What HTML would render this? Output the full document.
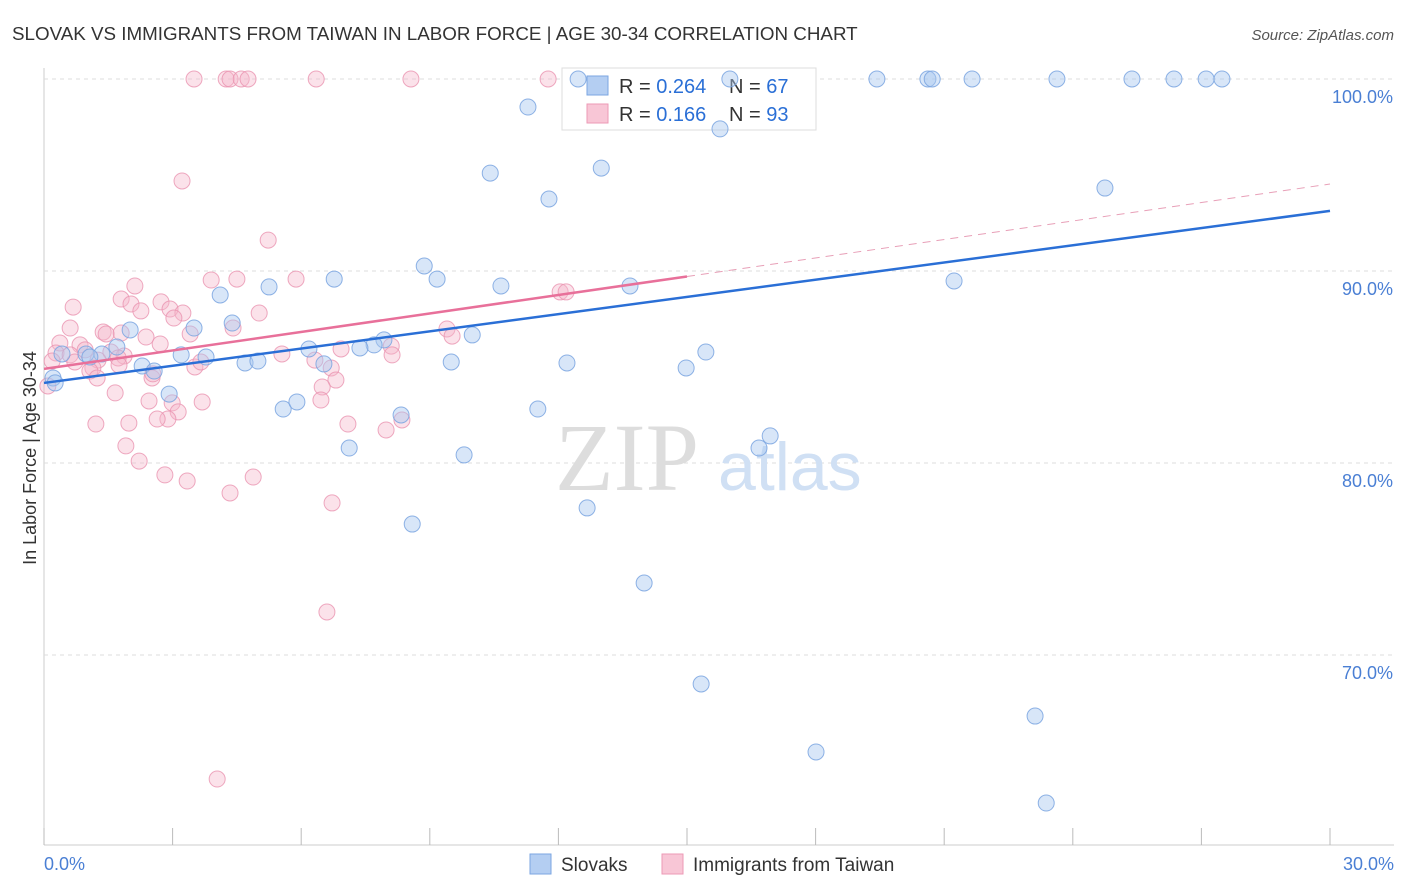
<!DOCTYPE html>
<html><head><meta charset="utf-8"><style>
body{margin:0;background:#fff;font-family:"Liberation Sans",sans-serif;}
svg{display:block}
</style></head><body>
<svg id="chart" width="1406" height="892" xmlns="http://www.w3.org/2000/svg">
<text x="12" y="40" font-size="18.8" fill="#333">SLOVAK VS IMMIGRANTS FROM TAIWAN IN LABOR FORCE | AGE 30-34 CORRELATION CHART</text>
<text x="1394" y="40" font-size="15" fill="#555" font-style="italic" text-anchor="end">Source: ZipAtlas.com</text>
<text x="36" y="458" font-size="18" fill="#333" text-anchor="middle" transform="rotate(-90 36 458)">In Labor Force | Age 30-34</text>
<g id="grid"></g>
<text x="555" y="490" font-size="96" fill="#ddd" font-family="Liberation Serif,serif">ZIP</text>
<text x="718" y="490" font-size="68" fill="#d0e0f4">atlas</text>
<g>
<rect x="562" y="68" width="254" height="62" fill="#fff" stroke="#ddd"/>
<rect x="587" y="76" width="21" height="19" fill="#b4cef2" stroke="#7ba6e2"/>
<rect x="587" y="104" width="21" height="19" fill="#f8c6d6" stroke="#ec9ab6"/>
<text x="619" y="93" font-size="20" fill="#333">R = <tspan fill="#2a6fd6">0.264</tspan></text>
<text x="729" y="93" font-size="20" fill="#333">N = <tspan fill="#2a6fd6">67</tspan></text>
<text x="619" y="121" font-size="20" fill="#333">R =  <tspan fill="#2a6fd6">0.166</tspan></text>
<text x="729" y="121" font-size="20" fill="#333">N = <tspan fill="#2a6fd6">93</tspan></text>
</g>
<g id="pts"></g>
<g id="lines"></g>
<g>
<rect x="530" y="854" width="21" height="20" fill="#b4cef2" stroke="#7ba6e2"/>
<text x="561" y="871" font-size="19" fill="#333">Slovaks</text>
<rect x="662" y="854" width="21" height="20" fill="#f8c6d6" stroke="#ec9ab6"/>
<text x="693" y="871" font-size="19" fill="#333">Immigrants from Taiwan</text>
</g>
</svg>
<script>
const blueX=[12.46,16.0,19.43,20.62,20.72,21.65,23.63,25.38,26.36,27.11,27.48,11.29,15.77,13.0,10.41,11.78,24.75,8.87,9.17,6.77,5.25,10.66,13.67,4.11,21.23,4.39,3.50,2.01,9.99,7.93,7.70,7.37,6.18,1.70,1.35,0.42,3.20,3.78,4.69,4.99,9.50,12.20,15.44,14.98,2.29,2.57,0.21,6.53,2.92,5.58,5.90,8.33,11.52,7.12,9.80,16.94,16.68,8.59,12.67,14.0,15.33,18.01,23.12,23.38,0.98,1.07,0.26];
const blueY=[100,100,100,100,100,100,100,100,100,100,100,98.54,97.4,95.36,95.1,93.75,94.32,90.26,89.58,89.58,89.17,89.22,89.22,88.75,89.48,87.29,87.03,86.93,86.67,86.41,86.15,85.99,85.94,86.04,85.68,85.68,85.63,85.52,85.21,85.31,85.26,85.21,85.78,84.95,85.05,84.79,84.43,85.16,83.59,82.81,83.18,82.5,82.81,80.78,80.42,81.41,80.78,76.82,77.66,73.75,68.49,64.95,66.82,62.29,85.68,85.52,84.17];
const pinkX=[3.50,4.25,4.34,4.60,4.76,6.35,8.56,11.76,3.22,5.23,5.88,4.50,3.90,2.12,1.80,0.68,2.73,2.03,2.26,2.94,3.24,3.03,5.02,0.61,4.41,1.38,1.45,1.80,3.41,2.38,2.71,0.37,0.84,0.96,1.56,1.87,0.28,0.61,1.26,0.19,0.72,1.73,1.14,1.07,1.75,3.52,3.66,5.55,6.32,6.70,6.93,8.10,8.12,9.40,9.52,12.04,12.18,0.09,1.24,2.52,2.54,6.81,6.49,1.66,2.45,2.99,3.69,3.13,2.89,1.21,1.98,2.64,6.46,7.09,8.35,7.98,1.91,2.22,2.82,3.34,4.88,4.34,6.72,6.60,4.04];
const pinkY=[100,100,100,100,100,100,100,100,94.69,91.61,89.58,89.58,89.53,89.22,88.54,88.12,88.39,88.28,87.92,88.02,87.81,87.55,87.81,87.03,87.03,86.82,86.72,86.77,86.72,86.56,86.2,86.25,86.15,85.89,85.78,85.57,85.73,85.63,85.36,85.31,85.26,85.47,84.95,84.79,85.10,85.0,85.26,85.68,85.36,84.95,85.94,86.09,85.63,86.98,86.61,88.91,88.91,84.01,84.43,84.43,84.64,84.32,83.96,83.65,83.23,83.13,83.18,82.66,82.29,82.03,82.08,82.29,83.28,82.03,82.24,81.72,80.89,80.10,79.38,79.06,79.27,78.44,77.92,72.24,63.54];
const blueTrend=[84.17,93.13];
const pinkTrend=[84.9,94.53];
const yTicks=[100,90,80,70];
const NS="http://www.w3.org/2000/svg";
function sx(v){return 44+v/30*1286;}
function sy(v){return 79+(100-v)*19.2;}
function mk(tag,a,p){const e=document.createElementNS(NS,tag);for(const k in a)e.setAttribute(k,a[k]);p.appendChild(e);return e;}
const grid=document.getElementById('grid');
mk('line',{x1:44,y1:68,x2:44,y2:845,stroke:'#ccc'},grid);
mk('line',{x1:44,y1:845,x2:1394,y2:845,stroke:'#ccc'},grid);
yTicks.forEach(t=>{
  const l=mk('line',{x1:44,y1:sy(t),x2:1394,y2:sy(t),stroke:'#ddd','stroke-dasharray':'4 4'},grid);
  
  
  const tx=mk('text',{x:1393,y:sy(t)+24,'font-size':18,fill:'#4a7fd4','text-anchor':'end'},grid);
  tx.textContent=t.toFixed(1)+'%';
  
  
});
for(let i=0;i<=10;i++){const x=sx(i*3);const tk=mk('line',{x1:x,y1:828,x2:x,y2:845,stroke:'#bbb'},grid);
  
  }
let t0=mk('text',{x:44,y:870,'font-size':18,fill:'#4a7fd4'},grid);t0.textContent='0.0%';


let t1=mk('text',{x:1394,y:870,'font-size':18,fill:'#4a7fd4','text-anchor':'end'},grid);t1.textContent='30.0%';


const pts=document.getElementById('pts');
pinkX.forEach((x,i)=>{const c=mk('circle',{cx:sx(x),cy:sy(pinkY[i]),r:8,fill:'#f6b6ca','fill-opacity':0.4,stroke:'#ea94b0','stroke-opacity':0.8},pts);
  
  });
blueX.forEach((x,i)=>{const c=mk('circle',{cx:sx(x),cy:sy(blueY[i]),r:8,fill:'#a9c7f0','fill-opacity':0.45,stroke:'#7aa4e0','stroke-opacity':0.85},pts);
  
  });
const lines=document.getElementById('lines');
let bl=mk('line',{x1:sx(0),y1:sy(blueTrend[0]),x2:sx(30),y2:sy(blueTrend[1]),stroke:'#2a6fd6','stroke-width':2.5},lines);


const pm=pinkTrend[0]+(pinkTrend[1]-pinkTrend[0])/2;
let pl=mk('line',{x1:sx(0),y1:sy(pinkTrend[0]),x2:sx(15),y2:sy(pm),stroke:'#e8709a','stroke-width':2.5},lines);


let pd=mk('line',{x1:sx(15),y1:sy(pm),x2:sx(30),y2:sy(pinkTrend[1]),stroke:'#e8a0b8','stroke-width':1,'stroke-dasharray':'8 6'},lines);


</script>
</body></html>
